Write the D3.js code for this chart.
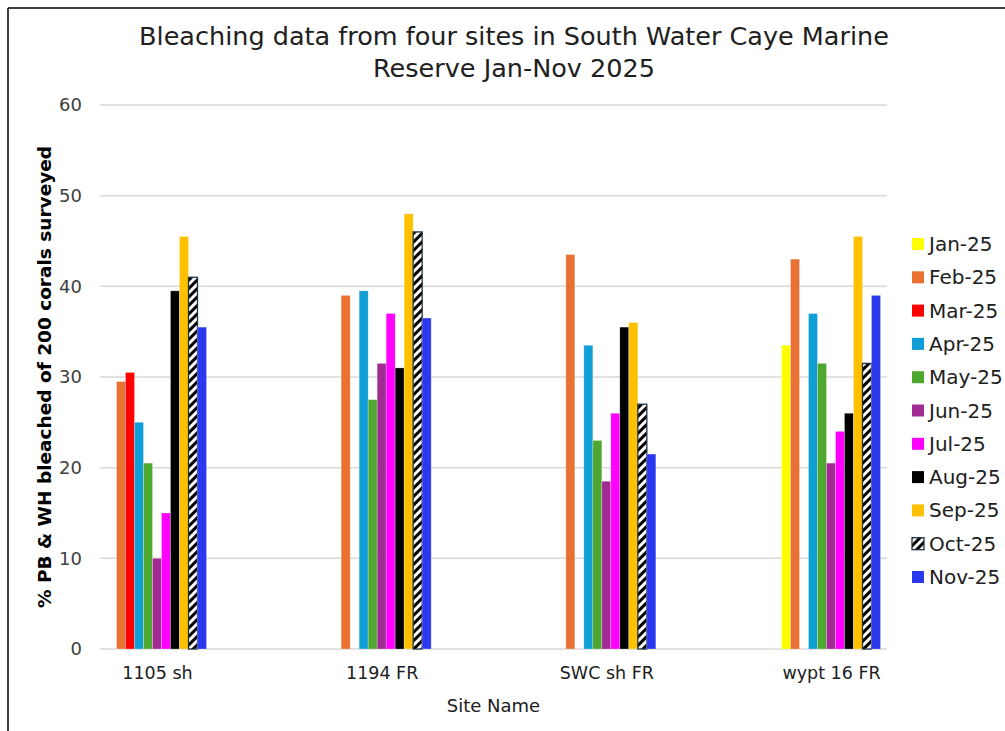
<!DOCTYPE html>
<html>
<head>
<meta charset="utf-8">
<script src="https://cdn.jsdelivr.net/npm/d3@7"></script>
<style>
  html, body { margin: 0; padding: 0; background: #fff; }
  svg { display: block; font-family: "DejaVu Sans", sans-serif; }
</style>
</head>
<body>
<svg id="chart" width="1005" height="731"></svg>
<script>
// Sites surveyed
const sites = ["1105 sh", "1194 FR", "SWC sh FR", "wypt 16 FR"];

// Survey months
const months = ["Jan-25", "Feb-25", "Mar-25", "Apr-25", "May-25", "Jun-25",
                "Jul-25", "Aug-25", "Sep-25", "Oct-25", "Nov-25"];

// % PB & WH bleached per month, one value per site (order as in `sites`)
const jan25 = [0, 0, 0, 33.5];
const feb25 = [29.5, 39, 43.5, 43];
const mar25 = [30.5, 0, 0, 0];
const apr25 = [25, 39.5, 33.5, 37];
const may25 = [20.5, 27.5, 23, 31.5];
const jun25 = [10, 31.5, 18.5, 20.5];
const jul25 = [15, 37, 26, 24];
const aug25 = [39.5, 31, 35.5, 26];
const sep25 = [45.5, 48, 36, 45.5];
const oct25 = [41, 46, 27, 31.5];
const nov25 = [35.5, 36.5, 21.5, 39];

const seriesValues = [jan25, feb25, mar25, apr25, may25, jun25,
                      jul25, aug25, sep25, oct25, nov25];

const yTicks = [0, 10, 20, 30, 40, 50, 60];

const colors = ["#FFFF00", "#E97132", "#FF0000", "#0F9ED5", "#4EA72E", "#A02B93",
                "#FF00FF", "#000000", "#FFC000", "url(#hatch)", "#2A38EE"];

const svg = d3.select("#chart");

// diagonal hatch used for October
const defs = svg.append("defs");
const pat = defs.append("pattern")
  .attr("id", "hatch")
  .attr("patternUnits", "userSpaceOnUse")
  .attr("width", 6).attr("height", 6)
  .attr("patternTransform", "rotate(45)");
pat.append("rect").attr("width", 6).attr("height", 6).attr("fill", "#fff");
pat.append("rect").attr("width", 3).attr("height", 6).attr("fill", "#000");

// outer frame
svg.append("line").attr("x1", 8).attr("x2", 8).attr("y1", 8).attr("y2", 731)
  .attr("stroke", "#000").attr("stroke-width", 1.5);
svg.append("line").attr("x1", 8).attr("x2", 1005).attr("y1", 8).attr("y2", 8)
  .attr("stroke", "#000").attr("stroke-width", 1.5);

const plot = { left: 100, right: 887, top: 105, bottom: 649 };

const y = d3.scaleLinear().domain([0, 60]).range([plot.bottom, plot.top]);
const x0 = d3.scalePoint().domain(sites).range([157, 831]);
const x1 = d3.scaleBand().domain(months).range([-49.5, 49.5]).padding(0);

// gridlines
svg.append("g")
  .selectAll("line")
  .data(yTicks)
  .join("line")
  .attr("x1", plot.left).attr("x2", plot.right)
  .attr("y1", d => y(d)).attr("y2", d => y(d))
  .attr("stroke", "#d9d9d9").attr("stroke-width", 1.5);

// y axis labels
const yAxis = svg.append("g")
  .attr("transform", `translate(${plot.left},0)`)
  .call(d3.axisLeft(y).tickValues(yTicks).tickSize(0).tickPadding(18));
yAxis.select(".domain").remove();
yAxis.selectAll("text")
  .attr("font-family", "DejaVu Sans, sans-serif")
  .attr("font-size", 18).attr("fill", "#404040");

// bars
const groups = svg.append("g")
  .selectAll("g")
  .data(months)
  .join("g")
  .attr("fill", (d, i) => colors[i]);

groups.selectAll("rect")
  .data((m, i) => sites.map((s, j) => ({ site: s, month: m, value: seriesValues[i][j], idx: i })))
  .join("rect")
  .attr("x", d => x0(d.site) + x1(d.month))
  .attr("width", x1.bandwidth())
  .attr("y", d => y(d.value))
  .attr("height", d => y(0) - y(d.value))
  .attr("stroke", d => d.idx === 9 ? "#203444" : "rgba(255,255,255,0.35)")
  .attr("stroke-width", d => d.idx === 9 ? 1.3 : 0.7)
  .style("display", d => d.value > 0 ? null : "none");

// x axis labels
const xAxis = svg.append("g")
  .attr("transform", `translate(0,${plot.bottom})`)
  .call(d3.axisBottom(x0).tickSize(0).tickPadding(18));
xAxis.select(".domain").remove();
xAxis.selectAll("text")
  .attr("font-family", "DejaVu Sans, sans-serif")
  .attr("font-size", 17.5).attr("fill", "#202020");

// title
const title = svg.append("text")
  .attr("x", 514).attr("text-anchor", "middle")
  .attr("font-size", 25.5).attr("fill", "#202020");
title.append("tspan").attr("x", 514).attr("y", 45)
  .text("Bleaching data from four sites in South Water Caye Marine");
title.append("tspan").attr("x", 514).attr("y", 77)
  .text("Reserve Jan-Nov 2025");

// axis titles
svg.append("text")
  .attr("x", (plot.left + plot.right) / 2).attr("y", 712)
  .attr("text-anchor", "middle")
  .attr("font-size", 18).attr("fill", "#202020")
  .text("Site Name");

svg.append("text")
  .attr("transform", `translate(51,${(plot.top + plot.bottom) / 2}) rotate(-90)`)
  .attr("text-anchor", "middle")
  .attr("font-size", 18.5).attr("font-weight", "bold").attr("fill", "#000")
  .text("% PB & WH bleached of 200 corals surveyed");

// legend
const legend = svg.append("g")
  .selectAll("g")
  .data(months)
  .join("g")
  .attr("transform", (d, i) => `translate(912,${244 + i * 33.3})`);

legend.append("rect")
  .attr("x", 0).attr("y", -6).attr("width", 12).attr("height", 12)
  .attr("fill", (d, i) => colors[i])
  .attr("stroke", (d, i) => i === 9 ? "#203444" : "none")
  .attr("stroke-width", 1.3);

legend.append("text")
  .attr("x", 17).attr("y", 0).attr("dy", "0.35em")
  .attr("font-size", 20).attr("fill", "#202020")
  .text(d => d);
</script>
</body>
</html>
